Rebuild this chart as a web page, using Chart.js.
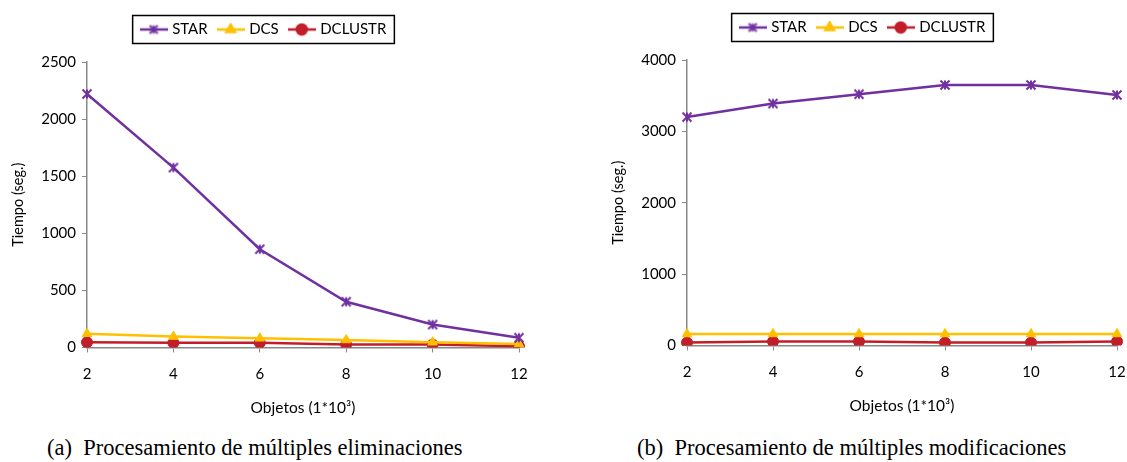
<!DOCTYPE html>
<html>
<head>
<meta charset="utf-8">
<script src="https://cdn.jsdelivr.net/npm/chart.js@4.4.0/dist/chart.umd.min.js"></script>
<style>
    body { margin: 0; background: #fff; width: 1127px; height: 462px; position: relative; overflow: hidden; }
    .box { position: absolute; height: 425px; }
    .cap { position: absolute; top: 435px; font-family: "Liberation Serif", serif; font-size: 22.5px; line-height: 26px; color: #000; white-space: nowrap; }
</style>
</head>
<body>
<div class="box" style="left:0; top:2px; width:560px;"><canvas id="chart-a"></canvas></div>
<div class="box" style="left:560px; top:0; width:567px;"><canvas id="chart-b"></canvas></div>
<div class="cap" style="left:47px;">(a)&nbsp; Procesamiento de múltiples eliminaciones</div>
<div class="cap" style="left:637px;">(b)&nbsp; Procesamiento de múltiples modificaciones</div>
<script>
const objetos = ['2', '4', '6', '8', '10', '12'];
const seriesNames = ['STAR', 'DCS', 'DCLUSTR'];

// (a) eliminaciones
const starElim = [2220, 1575, 860, 400, 200, 85];
const dcsElim = [120, 95, 80, 65, 45, 30];
const dclustrElim = [45, 40, 40, 25, 25, 10];

// (b) modificaciones
const starMod = [3200, 3390, 3520, 3650, 3650, 3510];
const dcsMod = [160, 160, 160, 160, 160, 160];
const dclustrMod = [40, 55, 55, 40, 40, 55];

const colors = { STAR: '#7030A0', DCS: '#FFC000', DCLUSTR: '#C21E2A' };
const fontFamily = 'Lato, "Open Sans", sans-serif';

// excel style asterisk: an x with a vertical bar
function starMarker(size) {
    const c = document.createElement('canvas');
    c.width = size;
    c.height = size;
    const ctx = c.getContext('2d');
    ctx.strokeStyle = colors.STAR;
    ctx.lineWidth = 2;
    const m = 1.5, s = size - 1.5;
    ctx.beginPath();
    ctx.moveTo(m, m); ctx.lineTo(s, s);
    ctx.moveTo(s, m); ctx.lineTo(m, s);
    ctx.moveTo(size / 2, m); ctx.lineTo(size / 2, s);
    ctx.stroke();
    return c;
}

const markers = { STAR: starMarker(12), DCS: 'triangle', DCLUSTR: 'circle' };

function legendIcon(name) {
    const c = document.createElement('canvas');
    c.width = 28;
    c.height = 14;
    const ctx = c.getContext('2d');
    ctx.strokeStyle = colors[name];
    ctx.fillStyle = colors[name];
    ctx.lineWidth = 2.5;
    ctx.beginPath();
    ctx.moveTo(0, 7);
    ctx.lineTo(28, 7);
    ctx.stroke();
    if (name === 'STAR') {
        ctx.drawImage(starMarker(11), 8.5, 1.5);
    } else {
        Chart.helpers.drawPoint(ctx, { pointStyle: markers[name], radius: 5, borderWidth: 1 }, 14, 7);
        ctx.fill();
    }
    return c;
}

const legendFrame = {
    id: 'legendFrame',
    beforeLayout(chart) {
        const legend = chart.legend;
        if (legend && !legend._extraGap) {
            const fit = legend.fit;
            legend.fit = function () {
                fit.call(this);
                this.height += 15;
            };
            legend._extraGap = true;
        }
    },
    afterDraw(chart) {
        const boxes = chart.legend.legendHitBoxes;
        if (!boxes || !boxes.length) return;
        const left = Math.min(...boxes.map(b => b.left)) - 10;
        const right = Math.max(...boxes.map(b => b.left + b.width)) + 8;
        const midY = boxes[0].top + boxes[0].height / 2;
        const ctx = chart.ctx;
        ctx.save();
        ctx.strokeStyle = '#000';
        ctx.lineWidth = 1.5;
        ctx.strokeRect(left, midY - 14, right - left, 28);
        ctx.restore();
    }
};

function makeDataset(name, data) {
    return {
        label: name,
        data: data,
        borderColor: colors[name],
        backgroundColor: colors[name],
        borderWidth: 2.5,
        pointStyle: markers[name],
        pointRadius: 5.5,
        pointBorderWidth: 1,
        pointBackgroundColor: colors[name],
        tension: 0
    };
}

function createChart(canvasId, series, yMax, yStep, padLeft, padRight) {
    new Chart(document.getElementById(canvasId).getContext('2d'), {
        type: 'line',
        data: {
            labels: objetos,
            datasets: seriesNames.map((name, i) => makeDataset(name, series[i]))
        },
        plugins: [legendFrame],
        options: {
            responsive: true,
            maintainAspectRatio: false,
            animation: false,
            layout: { padding: { left: padLeft, right: padRight, top: 8, bottom: 10 } },
            plugins: {
                tooltip: { enabled: false },
                legend: {
                    position: 'top',
                    labels: {
                        usePointStyle: true,
                        pointStyleWidth: 22,
                        boxHeight: 14,
                        padding: 12,
                        color: '#000',
                        font: { family: fontFamily, size: 15 },
                        generateLabels: chart => chart.data.datasets.map((ds, i) => ({
                            text: ds.label,
                            pointStyle: legendIcon(ds.label),
                            fillStyle: ds.backgroundColor,
                            strokeStyle: ds.borderColor,
                            lineWidth: 0,
                            datasetIndex: i
                        }))
                    }
                }
            },
            scales: {
                x: {
                    offset: false,
                    afterFit: scale => { scale.paddingLeft = 0; scale.paddingRight = 0; },
                    grid: { display: true, drawOnChartArea: false, drawTicks: true, tickLength: 5, color: '#888' },
                    border: { color: '#888', width: 1.5 },
                    ticks: { color: '#000', font: { family: fontFamily, size: 15 }, padding: 13, maxRotation: 0 },
                    title: { display: true, text: 'Objetos (1*10³)', color: '#000', font: { family: fontFamily, size: 15.5 }, padding: { top: 2, bottom: 0 } }
                },
                y: {
                    min: 0,
                    max: yMax,
                    afterFit: scale => { scale.width = 77; },
                    grid: { display: true, drawOnChartArea: false, drawTicks: true, tickLength: 5, color: '#888' },
                    border: { color: '#888', width: 1.5 },
                    ticks: { stepSize: yStep, color: '#000', font: { family: fontFamily, size: 15 }, padding: 6, callback: v => String(v) },
                    title: { display: true, text: 'Tiempo (seg.)', color: '#000', font: { family: fontFamily, size: 14.5 }, padding: 0 }
                }
            }
        }
    });
}

createChart('chart-a', [starElim, dcsElim, dclustrElim], 2500, 500, 10, 41);
createChart('chart-b', [starMod, dcsMod, dclustrMod], 4000, 1000, 50, 10);
</script>
</body>
</html>
